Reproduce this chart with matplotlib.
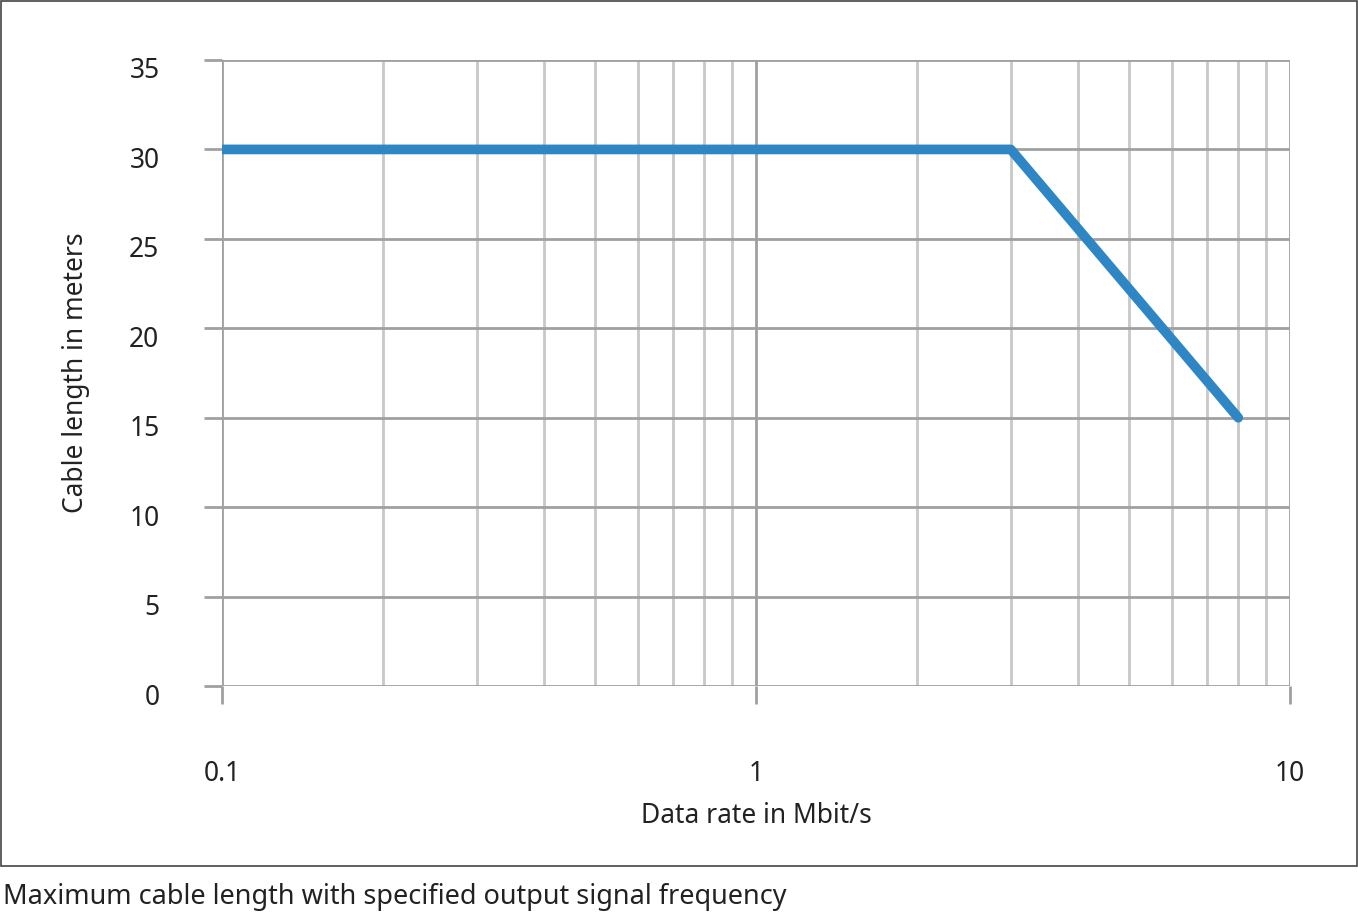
import matplotlib
matplotlib.use("Agg")
import matplotlib.pyplot as plt
import matplotlib.transforms as mtransforms
from matplotlib.patches import Rectangle
from matplotlib.ticker import NullFormatter

rate = [0.1, 3, 8]
length = [30, 30, 15]
yticks = [0, 5, 10, 15, 20, 25, 30, 35]
xticks = [0.1, 1, 10]
xlabels = ["0.1", "1", "10"]

plt.rcParams['font.family'] = ['Noto Sans', 'DejaVu Sans']
fig = plt.figure(figsize=(13.58, 9.13), dpi=100)
fig.patches.append(Rectangle((0.0005, 1-866/913), 0.9985, 866/913-0.001, transform=fig.transFigure,
                             fill=False, edgecolor='#444444', lw=1.2))
ax = fig.add_axes([222/1358, 1-686/913, (1290-222)/1358, (686-60)/913])
ax.set_xscale('log')
ax.set_xlim(0.1, 10)
ax.set_ylim(0, 35)
minors = [m*d for d in (0.1, 1) for m in range(2, 10)]
for x in minors:
    ax.axvline(x, color='#c8c8c8', lw=2, zorder=1)
for x in xticks:
    ax.axvline(x, color='#a0a0a0', lw=2, zorder=1)
for y in yticks:
    ax.axhline(y, color='#a0a0a0', lw=2, zorder=1)
ax.plot(rate, length, color='#2e86c5', lw=7, solid_capstyle='round', zorder=3)
for s in ax.spines.values():
    s.set_visible(False)
ax.set_yticks(yticks)
ax.set_xticks(xticks)
ax.set_xticklabels(xlabels)
ax.xaxis.set_minor_formatter(NullFormatter())
ax.tick_params(axis='x', which='minor', length=0)
ax.tick_params(axis='both', which='major', length=13, width=2, color='#a0a0a0',
               labelsize=19, colors='#222222')
ax.tick_params(axis='y', which='major', pad=32)
ax.tick_params(axis='x', which='major', pad=40)
off = mtransforms.ScaledTranslation(0, -8/100, fig.dpi_scale_trans)
for lab in ax.get_yticklabels():
    lab.set_transform(lab.get_transform() + off)
ax.set_xlabel("Data rate in Mbit/s", fontsize=19, color='#222222', labelpad=10)
ax.set_ylabel("Cable length in meters", fontsize=19, color='#222222', labelpad=28)
fig.text(0.002, 1-897/913, "Maximum cable length with specified output signal frequency",
         fontsize=19.5, color='#222222', va='center', ha='left')
fig.savefig("out.png", dpi=100)
